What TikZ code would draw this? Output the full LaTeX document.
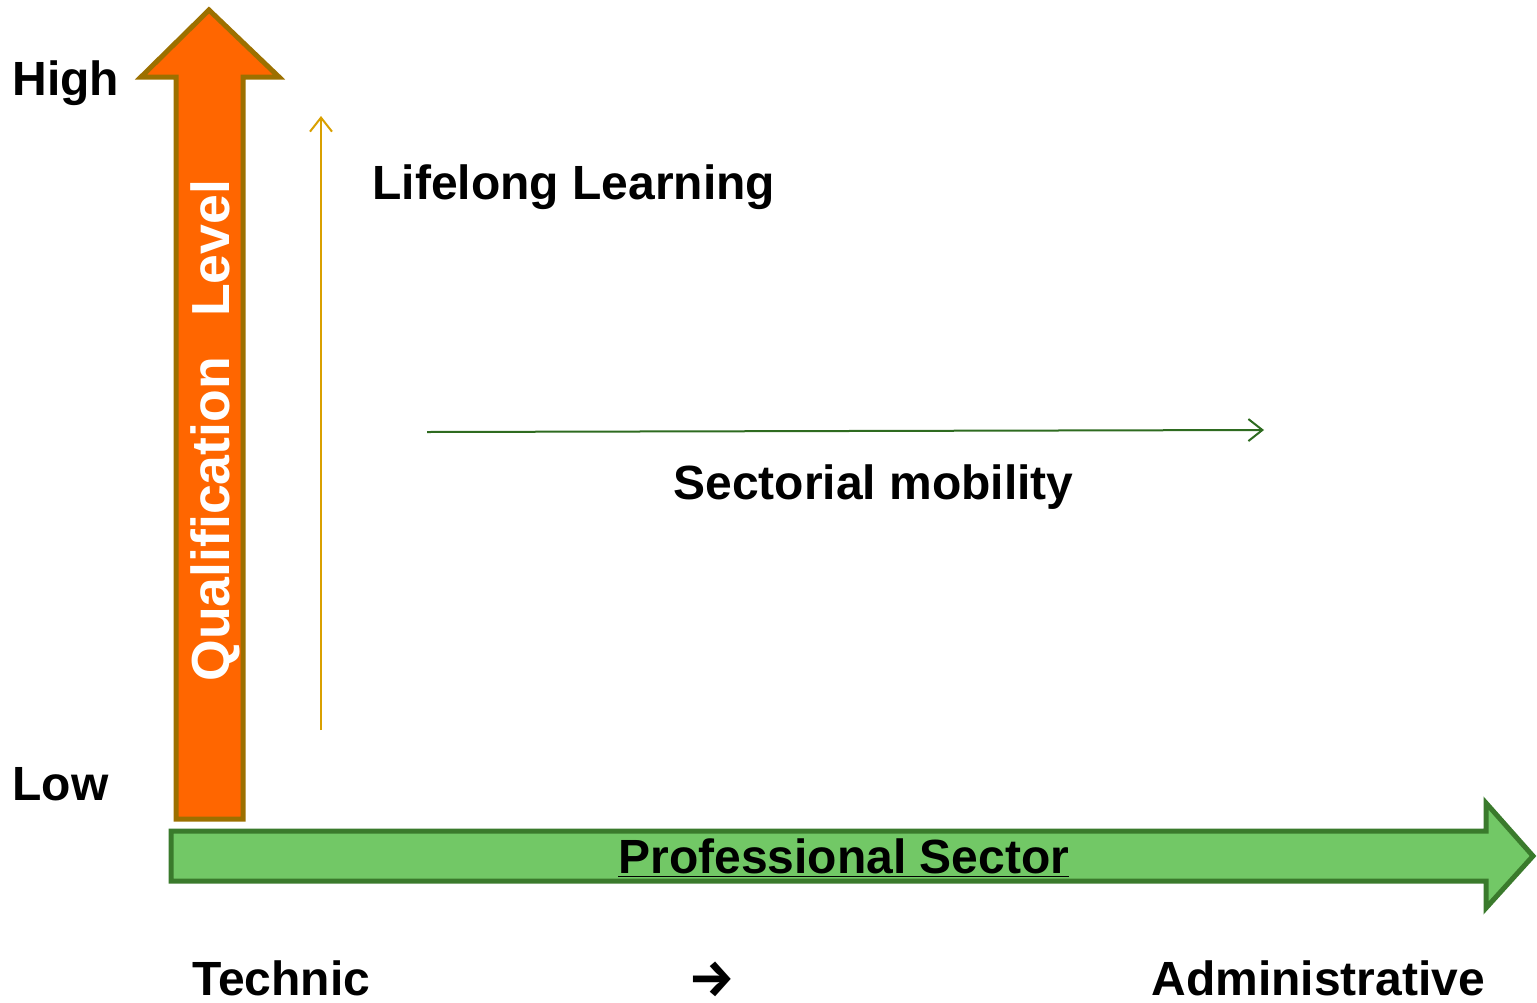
\documentclass[tikz,border=0pt]{standalone}
\usepackage{fontspec}
\setmainfont{Liberation Sans}
\newfontfamily\arrowfont{Fira Sans}
\usetikzlibrary{arrows.meta}
\definecolor{qualfill}{HTML}{FF6600}
\definecolor{qualedge}{HTML}{9C7000}
\definecolor{sectfill}{HTML}{72C866}
\definecolor{sectedge}{HTML}{3A7A2C}
\definecolor{lllcol}{HTML}{D9A000}
\definecolor{mobcol}{HTML}{2E6B20}

\begin{document}
\begin{tikzpicture}[x=0.5pt,y=-0.5pt]

	\tikzstyle{txt}=[anchor=base west, inner sep=0pt, font=\fontsize{24}{28}\selectfont\bfseries]
	\tikzstyle{vtxt}=[txt, rotate=90, text=white, font=\fontsize{26.8}{30}\selectfont\bfseries]
	\tikzstyle{bigarrow}=[line width=2.5pt, line join=miter]
	\tikzstyle{thinarrow}=[line width=1pt, -{Straight Barb[length=7pt,width=11pt]}]

	\useasboundingbox (0,0) rectangle (1537,1002);

	% grandes fleches
	\draw[bigarrow, draw=qualedge, fill=qualfill] (209,10) -- (279,77) -- (243,77) -- (243,819)
		-- (176,819) -- (176,77) -- (141,77) -- cycle;
	\draw[bigarrow, draw=sectedge, fill=sectfill] (171,831) -- (1486,831) -- (1486,803) -- (1533,856)
		-- (1486,908) -- (1486,881) -- (171,881) -- cycle;

	% textes
	\node[vtxt] (qual) at (229,682) {Qualification\hspace{20pt}Level};
	\node[txt] (high) at (12,95) {High};
	\node[txt] (low) at (12,800) {Low};
	\node[txt] (lll) at (372,199) {Lifelong Learning};
	\node[txt] (mob) at (673,499) {Sectorial mobility};
	\node[txt] (sect) at (618,873) {\underline{Professional Sector}};
	\node[txt] (tech) at (192,995) {Technic};
	\node[txt] (admin) at (1151,995) {Administrative};
	\node[inner sep=0pt, font=\fontsize{26}{28}\selectfont\arrowfont\bfseries] (to) at (712,979) {→};

	% fleches fines
	\coordinate (lllA) at (321,730);
	\coordinate (lllB) at (321,116);
	\coordinate (mobA) at (427,432);
	\coordinate (mobB) at (1264,430);
	\draw[thinarrow, lllcol] (lllA) -- (lllB);
	\draw[thinarrow, mobcol] (mobA) -- (mobB);

\end{tikzpicture}
\end{document}
